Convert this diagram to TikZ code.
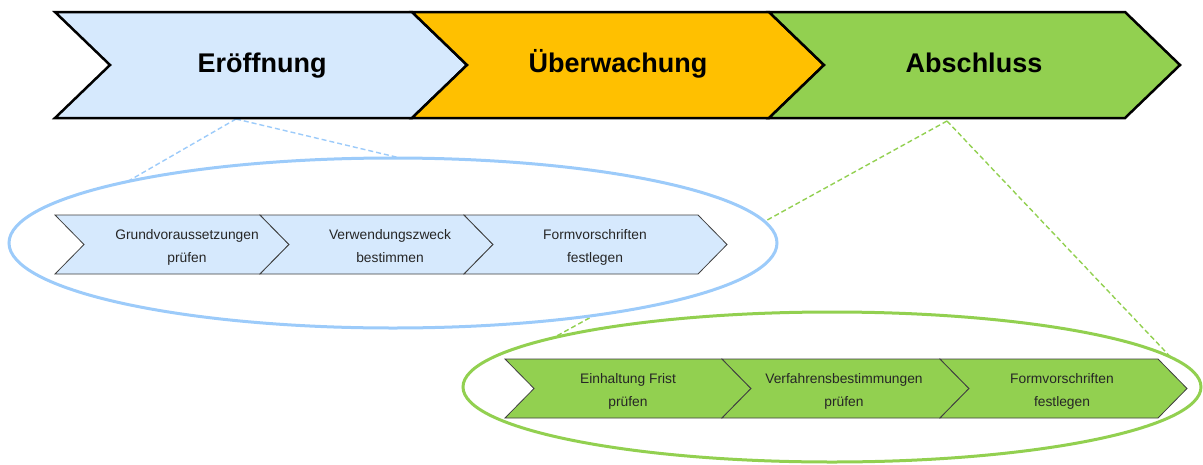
\documentclass[tikz,border=0pt]{standalone}
\usepackage{fontspec}
\setmainfont{Liberation Sans}
\usetikzlibrary{shapes.geometric}
\definecolor{lblue}{RGB}{214,233,253}
\definecolor{eblue}{RGB}{156,203,250}
\definecolor{orng}{RGB}{255,192,0}
\definecolor{grn}{RGB}{146,208,80}
\definecolor{txt}{RGB}{38,38,38}
\pgfdeclarelayer{background}
\pgfsetlayers{background,main}
\newcommand\chevron[6]{%
  \filldraw[#6] (#1,#2) -- ++(#3,0) -- ++(#5,#4/2) -- ++(-#5,#4/2) -- ++(-#3,0) -- ++(#5,-#4/2) -- cycle;}
\begin{document}
\begin{tikzpicture}[x=1pt,y=-1pt,
  bigchev/.style={draw=black,line width=2.5pt,line join=miter},
  smallchev/.style={draw=black!75,line width=0.8pt},
  bigtext/.style={font=\fontsize{27}{32}\selectfont\bfseries,anchor=base},
  smalltext/.style={font=\fontsize{13.8}{23}\selectfont,text=txt,align=center,inner sep=0pt},
  zoomring/.style={ellipse,fill=white,line width=3pt,outer sep=0pt,inner sep=0pt},
  guide/.style={line width=1.4pt,dash pattern=on 5pt off 3pt}]
\useasboundingbox (0,0) rectangle (1203,464);
% top phase chevrons
\chevron{55}{12}{357}{106}{55}{bigchev,fill=lblue}
\chevron{412}{12}{357}{106}{55}{bigchev,fill=orng}
\chevron{769}{12}{356}{106}{55}{bigchev,fill=grn}
\node[bigtext] (t1) at (262,72) {Eröffnung};
\node[bigtext] (t2) at (618,72) {Überwachung};
\node[bigtext] (t3) at (974,72) {Abschluss};
\coordinate (b1) at (236,119);
\coordinate (b3) at (947,121);
% zoom ellipses
\node[zoomring,draw=eblue,minimum width=768pt,minimum height=170pt] (E1) at (393,243) {};
\node[zoomring,draw=grn,minimum width=738pt,minimum height=150pt] (E2) at (832,387) {};
\begin{pgfonlayer}{background}
\draw[guide,eblue] (b1) -- (E1.167);
\draw[guide,eblue] (b1) -- (E1.85);
\draw[guide,grn] (b3) -- (E2.170);
\draw[guide,grn] (b3) -- (E2.5);
\end{pgfonlayer}
% blue sub steps
\chevron{55}{215}{205}{59}{29}{smallchev,fill=lblue}
\chevron{260}{215}{204}{59}{29}{smallchev,fill=lblue}
\chevron{464}{215}{234}{59}{29}{smallchev,fill=lblue}
\node[smalltext] (s1) at (187,246) {\strut Grundvoraussetzungen\\\strut prüfen};
\node[smalltext] (s2) at (390,246) {\strut Verwendungszweck\\\strut bestimmen};
\node[smalltext] (s3) at (595,246) {\strut Formvorschriften\\\strut festlegen};
% green sub steps
\chevron{505}{359}{217}{59}{29}{smallchev,fill=grn}
\chevron{722}{359}{218}{59}{29}{smallchev,fill=grn}
\chevron{940}{359}{218}{59}{29}{smallchev,fill=grn}
\node[smalltext] (g1) at (628,390) {\strut Einhaltung Frist\\\strut prüfen};
\node[smalltext] (g2) at (844,390) {\strut Verfahrensbestimmungen\\\strut prüfen};
\node[smalltext] (g3) at (1062,390) {\strut Formvorschriften\\\strut festlegen};
\end{tikzpicture}
\end{document}
